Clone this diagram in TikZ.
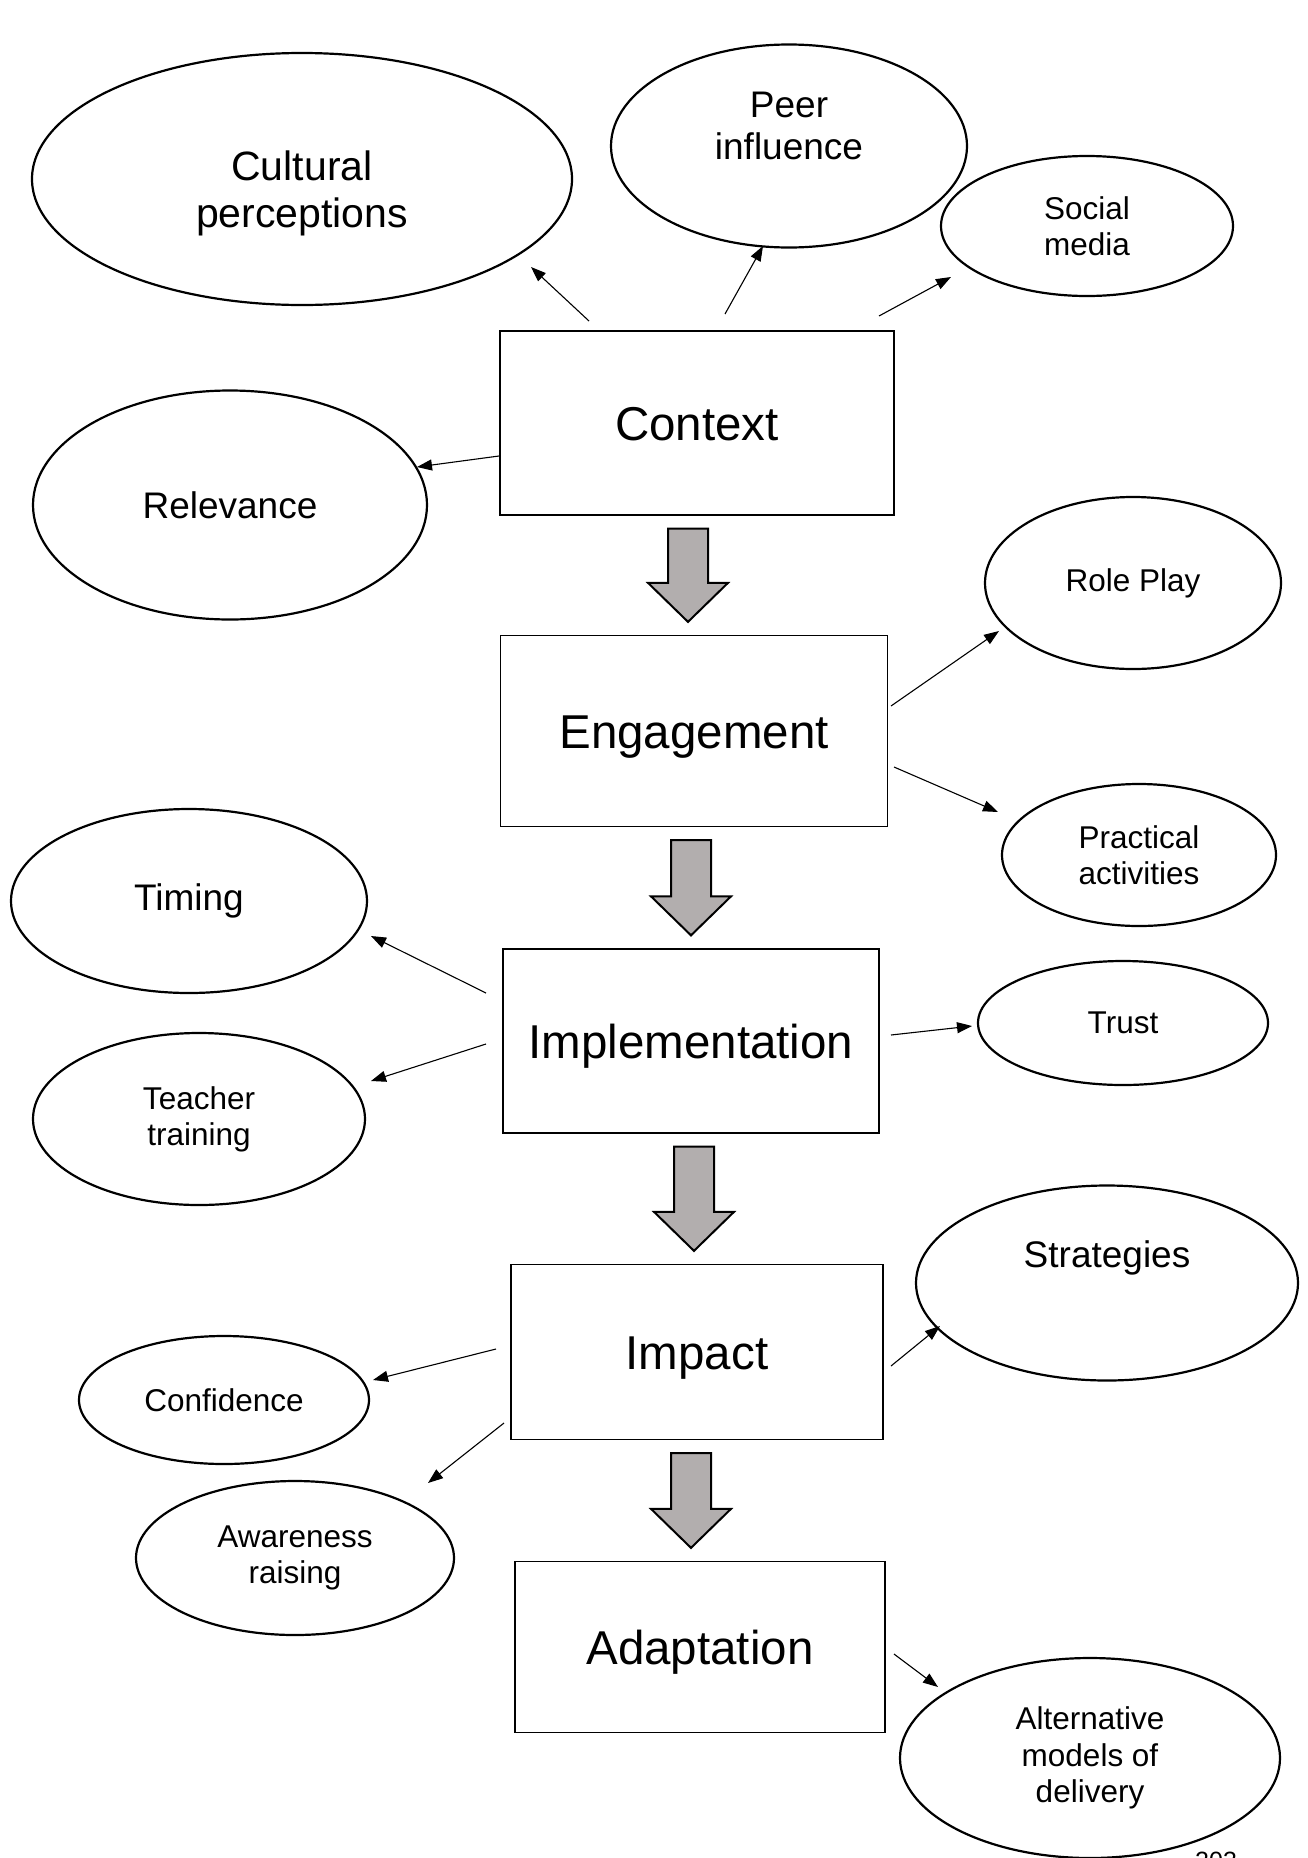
\documentclass[tikz,border=0pt]{standalone}
\usepackage{fontspec}
\setmainfont{Liberation Sans}
\usetikzlibrary{arrows.meta,calc,shapes.geometric}
\definecolor{arrowgrey}{RGB}{178,174,174}

\begin{document}
\begin{tikzpicture}[
    x=1pt, y=-1pt,
    box/.style={draw, line width=1.3pt, inner sep=0pt, text height=34pt, text depth=0pt, font=\fontsize{47.5}{54.6}\selectfont},
    bubble/.style={draw, ellipse, line width=2.2pt, inner sep=0pt, align=center},
    big/.style={font=\fontsize{41}{47}\selectfont},
    mid/.style={font=\fontsize{37}{42.5}\selectfont},
    small/.style={font=\fontsize{31.5}{36.2}\selectfont},
    link/.style={-{Triangle[length=15pt,width=11pt]}, line width=1.1pt},
    fatarrow/.style={draw, line width=2pt, fill=arrowgrey, line join=miter}
]
\useasboundingbox (0,0) rectangle (1308,1858);

% main chain
\node[box, minimum width=394pt, minimum height=184pt] (context) at (697,423) {Context};
\node[box, minimum width=387pt, minimum height=191pt] (engage) at (694,731) {Engagement};
\node[box, minimum width=376pt, minimum height=184pt] (implement) at (691,1041) {Implementation};
\node[box, minimum width=372pt, minimum height=175pt] (impact) at (697,1352) {Impact};
\node[box, minimum width=370pt, minimum height=171pt] (adapt) at (700,1647) {Adaptation};

% factors round the chain
\node[bubble, minimum width=540pt, minimum height=252pt, label={[big, align=center, yshift=-14pt]center:Cultural\\perceptions}] (cultural) at (302,179) {};
\node[bubble, minimum width=356pt, minimum height=203pt, label={[mid, align=center, yshift=20pt]center:Peer\\influence}] (peer) at (789,146) {};
\node[bubble, small, minimum width=292pt, minimum height=140pt] (social) at (1087,226) {Social\\media};
\node[bubble, mid, minimum width=394pt, minimum height=229pt] (relevance) at (230,505) {Relevance};
\node[bubble, small, minimum width=296pt, minimum height=172pt] (roleplay) at (1133,583) {Role Play};
\node[bubble, small, minimum width=274pt, minimum height=142pt] (practical) at (1139,855) {Practical\\activities};
\node[bubble, mid, minimum width=356pt, minimum height=184pt] (timing) at (189,901) {Timing};
\node[bubble, small, minimum width=332pt, minimum height=172pt] (teacher) at (199,1119) {Teacher\\training};
\node[bubble, small, minimum width=290pt, minimum height=124pt] (trust) at (1123,1023) {Trust};
\node[bubble, minimum width=382pt, minimum height=195pt, label={[mid, yshift=25pt]center:Strategies}] (strategies) at (1107,1283) {};
\node[bubble, small, minimum width=290pt, minimum height=128pt] (confidence) at (224,1400) {Confidence};
\node[bubble, small, minimum width=318pt, minimum height=154pt] (awareness) at (295,1558) {Awareness\\raising};
\node[bubble, small, minimum width=380pt, minimum height=200pt] (altern) at (1090,1758) {Alternative\\models of\\delivery};

\node[anchor=north west, inner sep=0pt, font=\fontsize{25}{30}\selectfont] (pagenum) at (1195,1852) {203};

% block arrows between stages
\foreach \a/\b/\dx in {context/engage/-9, engage/implement/-3, implement/impact/3, impact/adapt/-6}{
  \path (\a.south) ++(\dx,13) coordinate (top);
  \path (\b.north -| top) ++(0,-13) coordinate (tip);
  \draw[fatarrow] ($(top)+(-20,0)$) -- ($(top)+(20,0)$) -- ($(tip)+(20,-39)$) -- ($(tip)+(40,-39)$)
    -- (tip) -- ($(tip)+(-40,-39)$) -- ($(tip)+(-20,-39)$) -- cycle;
}

% thin arrows
\draw[link] ([shift={(-108,-102)}]context.center) -- ([shift={(229,88)}]cultural.center);
\draw[link] ([shift={(28,-109)}]context.center) -- ([shift={(-26,100)}]peer.center);
\draw[link] ([shift={(182,-107)}]context.center) -- ([shift={(-136,51)}]social.center);
\draw[link] ([shift={(-198,33)}]context.center) -- ([shift={(187,-38)}]relevance.center);
\draw[link] ([shift={(197,-25)}]engage.center) -- ([shift={(-134,48)}]roleplay.center);
\draw[link] ([shift={(200,36)}]engage.center) -- ([shift={(-141,-43)}]practical.center);
\draw[link] ([shift={(-205,-48)}]implement.center) -- ([shift={(182,35)}]timing.center);
\draw[link] ([shift={(-205,3)}]implement.center) -- ([shift={(172,-38)}]teacher.center);
\draw[link] ([shift={(200,-6)}]implement.center) -- ([shift={(-151,3)}]trust.center);
\draw[link] ([shift={(194,14)}]impact.center) -- ([shift={(-167,43)}]strategies.center);
\draw[link] ([shift={(-201,-3)}]impact.center) -- ([shift={(149,-20)}]confidence.center);
\draw[link] ([shift={(-193,71)}]impact.center) -- ([shift={(133,-75)}]awareness.center);
\draw[link] ([shift={(194,7)}]adapt.center) -- ([shift={(-152,-71)}]altern.center);
\end{tikzpicture}
\end{document}
